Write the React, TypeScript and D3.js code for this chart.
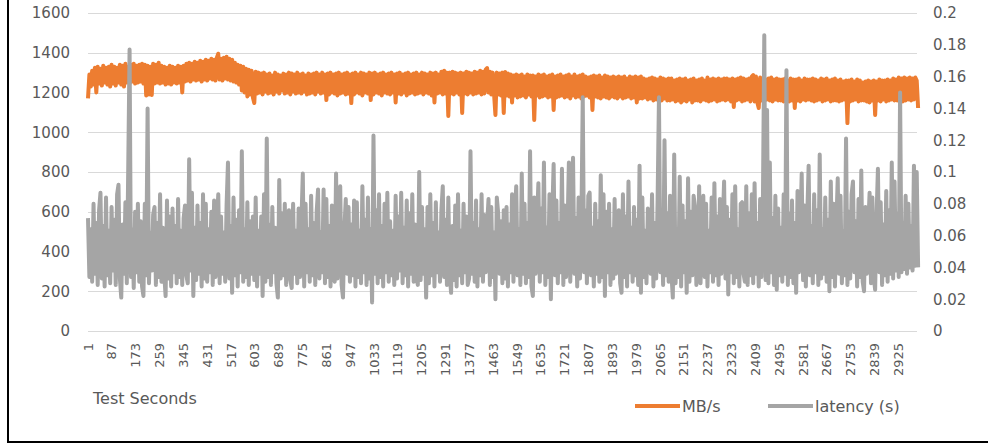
import React, { useRef, useEffect } from 'react';
import * as d3 from 'd3';

// MB/s, one reading every 5 test seconds
const mbps = [
  1170, 1290, 1230, 1310, 1240, 1325, 1200, 1330, 1245, 1320, 1235, 1335, 1250, 1325, 1240, 1330, 1230, 1340, 1245, 1330,
  1235, 1325, 1250, 1340, 1240, 1335, 1230, 1345, 1250, 1330, 1245, 1340, 1255, 1345, 1245, 1335, 1250, 1340, 1255, 1345,
  1245, 1340, 1185, 1335, 1190, 1330, 1188, 1345, 1245, 1340, 1250, 1350, 1245, 1335, 1250, 1330, 1240, 1325, 1245, 1335,
  1240, 1330, 1250, 1325, 1245, 1335, 1250, 1330, 1200, 1335, 1255, 1345, 1260, 1350, 1255, 1345, 1265, 1355, 1260, 1350,
  1265, 1360, 1255, 1355, 1265, 1365, 1260, 1360, 1270, 1370, 1265, 1365, 1260, 1375, 1395, 1265, 1370, 1260, 1375, 1270,
  1380, 1265, 1370, 1260, 1365, 1255, 1350, 1250, 1340, 1240, 1335, 1210, 1330, 1200, 1320, 1180, 1315, 1190, 1310, 1175,
  1147, 1305, 1195, 1300, 1200, 1295, 1190, 1300, 1205, 1290, 1195, 1295, 1200, 1285, 1190, 1300, 1205, 1290, 1195, 1285,
  1210, 1295, 1195, 1290, 1200, 1300, 1190, 1295, 1205, 1290, 1195, 1300, 1200, 1290, 1195, 1295, 1205, 1285, 1190, 1295,
  1195, 1290, 1200, 1295, 1190, 1300, 1205, 1290, 1195, 1300, 1200, 1290, 1162, 1295, 1190, 1300, 1200, 1290, 1195, 1295,
  1185, 1300, 1195, 1290, 1200, 1295, 1190, 1300, 1195, 1290, 1147, 1295, 1190, 1300, 1200, 1290, 1195, 1300, 1185, 1295,
  1200, 1290, 1195, 1300, 1162, 1295, 1190, 1300, 1200, 1290, 1195, 1295, 1185, 1300, 1200, 1290, 1195, 1295, 1190, 1300,
  1200, 1290, 1150, 1295, 1195, 1300, 1190, 1290, 1200, 1295, 1185, 1300, 1195, 1290, 1200, 1295, 1190, 1300, 1195, 1290,
  1200, 1300, 1190, 1295, 1200, 1290, 1195, 1300, 1185, 1295, 1150, 1300, 1195, 1290, 1200, 1305, 1190, 1310, 1195, 1300,
  1082, 1300, 1195, 1305, 1190, 1300, 1200, 1295, 1190, 1300, 1097, 1295, 1195, 1305, 1190, 1300, 1200, 1295, 1190, 1305,
  1195, 1300, 1200, 1310, 1190, 1305, 1195, 1315, 1323, 1200, 1305, 1190, 1300, 1195, 1087, 1300, 1190, 1295, 1185, 1300,
  1097, 1303, 1185, 1295, 1180, 1290, 1150, 1285, 1185, 1290, 1175, 1285, 1180, 1290, 1185, 1280, 1175, 1290, 1190, 1285,
  1180, 1285, 1062, 1280, 1185, 1290, 1175, 1285, 1180, 1290, 1185, 1280, 1175, 1285, 1180, 1290, 1112, 1280, 1175, 1285,
  1180, 1290, 1185, 1280, 1175, 1285, 1180, 1290, 1170, 1280, 1185, 1290, 1175, 1280, 1180, 1285, 1170, 1290, 1180, 1280,
  1185, 1275, 1175, 1280, 1112, 1285, 1180, 1280, 1175, 1285, 1170, 1275, 1180, 1285, 1175, 1280, 1170, 1275, 1180, 1280,
  1175, 1275, 1170, 1280, 1180, 1275, 1170, 1280, 1175, 1270, 1180, 1280, 1170, 1275, 1175, 1280, 1150, 1275, 1170, 1280,
  1170, 1270, 1175, 1265, 1165, 1270, 1170, 1275, 1160, 1270, 1165, 1265, 1170, 1275, 1160, 1270, 1170, 1265, 1160, 1270,
  1160, 1270, 1165, 1260, 1155, 1265, 1160, 1270, 1150, 1265, 1160, 1270, 1155, 1260, 1165, 1265, 1150, 1270, 1160, 1260,
  1160, 1265, 1155, 1270, 1165, 1260, 1160, 1275, 1155, 1265, 1160, 1270, 1165, 1265, 1155, 1270, 1160, 1265, 1165, 1270,
  1160, 1270, 1165, 1265, 1155, 1270, 1127, 1265, 1160, 1270, 1165, 1275, 1155, 1270, 1160, 1265, 1165, 1270, 1155, 1280,
  1288, 1155, 1280, 1150, 1122, 1275, 1160, 1270, 1155, 1265, 1165, 1270, 1160, 1275, 1155, 1265, 1165, 1270, 1160, 1265,
  1160, 1265, 1155, 1270, 1165, 1260, 1155, 1270, 1160, 1265, 1122, 1265, 1160, 1270, 1155, 1260, 1165, 1270, 1160, 1265,
  1165, 1265, 1160, 1270, 1155, 1265, 1160, 1260, 1165, 1270, 1155, 1265, 1160, 1270, 1165, 1260, 1155, 1265, 1160, 1270,
  1160, 1260, 1155, 1265, 1160, 1255, 1165, 1260, 1046, 1260, 1155, 1265, 1160, 1255, 1165, 1265, 1155, 1260, 1160, 1250,
  1160, 1255, 1155, 1260, 1150, 1255, 1160, 1260, 1087, 1255, 1160, 1265, 1155, 1260, 1165, 1260, 1155, 1265, 1160, 1260,
  1165, 1270, 1160, 1265, 1160, 1275, 1165, 1270, 1155, 1275, 1160, 1270, 1165, 1275, 1160, 1270, 1165, 1275, 1260, 1122,
];

// latency in milliseconds, same sampling
const latencyMs = [
  71, 34, 64, 31, 80, 36, 68, 29, 76, 87, 33, 66, 28, 84, 35, 63, 30, 78, 38, 70,
  29, 86, 92, 33, 21, 67, 36, 81, 30, 100, 177, 34, 64, 27, 75, 37, 80, 31, 69, 28,
  22, 80, 35, 140, 30, 62, 38, 73, 78, 29, 68, 34, 86, 31, 65, 36, 22, 82, 33, 72,
  28, 77, 37, 66, 30, 83, 34, 63, 29, 71, 79, 35, 30, 108, 38, 87, 22, 65, 32, 79,
  36, 68, 28, 86, 33, 80, 31, 64, 37, 75, 29, 82, 34, 67, 86, 30, 72, 36, 62, 31,
  79, 106, 33, 66, 24, 84, 35, 70, 28, 76, 37, 113, 31, 64, 34, 81, 29, 69, 36, 72,
  32, 84, 28, 63, 36, 72, 22, 86, 31, 121, 34, 67, 29, 78, 37, 65, 30, 21, 95, 33,
  74, 35, 80, 29, 66, 76, 32, 27, 80, 36, 63, 30, 77, 34, 69, 99, 28, 80, 37, 64,
  31, 85, 35, 68, 29, 75, 89, 33, 62, 37, 89, 30, 83, 34, 66, 28, 79, 36, 31, 99,
  33, 71, 91, 29, 21, 64, 83, 36, 78, 31, 67, 35, 82, 28, 81, 34, 63, 30, 91, 37,
  70, 29, 84, 33, 64, 18, 123, 36, 76, 30, 86, 34, 66, 28, 80, 37, 87, 31, 69, 35,
  63, 29, 85, 33, 72, 38, 87, 30, 65, 35, 82, 28, 74, 36, 86, 31, 67, 34, 29, 100,
  32, 78, 36, 64, 21, 78, 30, 86, 35, 68, 28, 81, 37, 62, 31, 76, 91, 34, 70, 29,
  84, 36, 24, 66, 32, 79, 28, 86, 35, 63, 30, 80, 37, 72, 29, 33, 113, 36, 68, 31,
  82, 28, 64, 35, 86, 31, 73, 37, 66, 83, 29, 78, 34, 62, 20, 84, 74, 36, 69, 30,
  76, 33, 78, 28, 67, 37, 86, 31, 72, 91, 35, 64, 29, 99, 36, 80, 30, 68, 34, 113,
  28, 22, 84, 36, 70, 93, 31, 77, 37, 106, 29, 65, 34, 86, 20, 73, 105, 35, 82, 30,
  68, 37, 102, 29, 79, 34, 63, 106, 31, 86, 109, 36, 71, 28, 84, 33, 66, 147, 37, 76,
  30, 85, 87, 35, 65, 28, 80, 36, 69, 31, 98, 34, 86, 22, 75, 37, 80, 29, 64, 33,
  83, 36, 67, 76, 30, 24, 86, 34, 72, 28, 94, 37, 65, 31, 78, 35, 70, 29, 104, 24,
  84, 34, 63, 30, 77, 67, 36, 86, 28, 68, 33, 81, 147, 37, 66, 29, 120, 35, 74, 31,
  85, 36, 21, 111, 30, 64, 34, 97, 28, 79, 37, 69, 24, 96, 31, 75, 35, 85, 78, 29,
  36, 91, 30, 67, 85, 34, 80, 28, 63, 37, 84, 31, 93, 35, 72, 29, 83, 36, 66, 94,
  33, 78, 23, 70, 37, 86, 30, 91, 34, 64, 28, 80, 81, 36, 31, 91, 29, 74, 35, 86,
  30, 93, 36, 68, 28, 83, 34, 80, 186, 32, 139, 30, 106, 37, 71, 29, 85, 26, 77, 35,
  65, 31, 86, 36, 164, 29, 74, 34, 82, 30, 68, 24, 88, 37, 63, 99, 32, 79, 28, 72,
  104, 35, 66, 30, 86, 37, 76, 29, 111, 33, 64, 36, 84, 31, 70, 25, 94, 34, 80, 28,
  67, 96, 36, 85, 30, 63, 35, 121, 29, 75, 33, 86, 94, 37, 69, 28, 83, 34, 101, 31,
  25, 78, 36, 65, 87, 30, 84, 34, 26, 72, 102, 37, 81, 29, 67, 35, 88, 31, 76, 36,
  106, 33, 94, 38, 74, 34, 150, 37, 68, 39, 85, 36, 80, 40, 66, 38, 104, 41, 100, 40,
];

// test second of each reading
const seconds = mbps.map((_, i) => 1 + i * 5);

const xTickLabels = [
  1, 87, 173, 259, 345, 431, 517, 603, 689, 775, 861, 947, 1033, 1119, 1205,
  1291, 1377, 1463, 1549, 1635, 1721, 1807, 1893, 1979, 2065, 2151, 2237, 2323,
  2409, 2495, 2581, 2667, 2753, 2839, 2925,
];
const leftTicks = [0, 200, 400, 600, 800, 1000, 1200, 1400, 1600];
const rightTicks = [0, 0.02, 0.04, 0.06, 0.08, 0.1, 0.12, 0.14, 0.16, 0.18, 0.2];

const ORANGE = '#ed7d31';
const GRAY = '#a5a5a5';
const TEXT = '#595959';
const FONT = '"DejaVu Sans", sans-serif';

const App = () => {
  const ref = useRef<SVGSVGElement>(null);

  useEffect(() => {
    const svg = d3.select(ref.current);
    svg.selectAll('*').remove();

    const left = 88, right = 917, top = 13, bottom = 331;

    const x = d3.scaleLinear().domain([1, 2992]).range([left, right]);
    const yL = d3.scaleLinear().domain([0, 1600]).range([bottom, top]);
    const yR = d3.scaleLinear().domain([0, 0.2]).range([bottom, top]);

    // outer frame (only left and bottom edges are in view)
    svg.append('line').attr('x1', 8).attr('x2', 8).attr('y1', 0).attr('y2', 443)
      .attr('stroke', '#000').attr('stroke-width', 2);
    svg.append('line').attr('x1', 7).attr('x2', 988).attr('y1', 442).attr('y2', 442)
      .attr('stroke', '#000').attr('stroke-width', 2);

    // gridlines
    svg.append('g').selectAll('line').data(leftTicks).enter().append('line')
      .attr('x1', left).attr('x2', right)
      .attr('y1', d => Math.round(yL(d)) + 0.5).attr('y2', d => Math.round(yL(d)) + 0.5)
      .attr('stroke', '#d9d9d9').attr('stroke-width', 1);

    // left axis labels
    svg.append('g').selectAll('text').data(leftTicks).enter().append('text')
      .attr('x', 70).attr('y', d => yL(d)).attr('dy', '0.36em')
      .attr('text-anchor', 'end')
      .style('font-family', FONT).style('font-size', '15px').style('fill', TEXT)
      .text(d => d);

    // right axis labels
    svg.append('g').selectAll('text').data(rightTicks).enter().append('text')
      .attr('x', 933).attr('y', d => yR(d)).attr('dy', '0.36em')
      .style('font-family', FONT).style('font-size', '15px').style('fill', TEXT)
      .text(d => d3.format('~g')(d));

    // x labels, rotated
    svg.append('g').selectAll('text').data(xTickLabels).enter().append('text')
      .attr('transform', d => `translate(${x(d)},343) rotate(-90)`)
      .attr('text-anchor', 'end').attr('dominant-baseline', 'central')
      .style('font-family', FONT).style('font-size', '13px').style('fill', TEXT)
      .text(d => d);

    // series: MB/s on the left axis, latency on the right axis (drawn on top)
    const lineL = d3.line<number>().x((_, i) => x(seconds[i])).y(d => yL(d));
    const lineR = d3.line<number>().x((_, i) => x(seconds[i])).y(d => yR(d / 1000));

    svg.append('path').datum(mbps)
      .attr('fill', 'none').attr('stroke', ORANGE).attr('stroke-width', 4)
      .attr('stroke-linejoin', 'round').attr('d', lineL);

    svg.append('path').datum(latencyMs)
      .attr('fill', 'none').attr('stroke', GRAY).attr('stroke-width', 4)
      .attr('stroke-linejoin', 'round').attr('d', lineR);

    // axis title
    svg.append('text').attr('x', 93).attr('y', 404)
      .style('font-family', FONT).style('font-size', '16px').style('fill', TEXT)
      .text('Test Seconds');

    // legend
    const legend = [
      { name: 'MB/s', color: ORANGE, x: 635 },
      { name: 'latency (s)', color: GRAY, x: 768 },
    ];
    const lg = svg.append('g');
    legend.forEach(l => {
      lg.append('line').attr('x1', l.x).attr('x2', l.x + 45).attr('y1', 406).attr('y2', 406)
        .attr('stroke', l.color).attr('stroke-width', 4);
      lg.append('text').attr('x', l.x + 47).attr('y', 412)
        .style('font-family', FONT).style('font-size', '16px').style('fill', TEXT)
        .text(l.name);
    });
  }, []);

  return (
    <div style={{ position: 'absolute', left: 0, top: 0 }}>
      <svg ref={ref} width={988} height={444} style={{ display: 'block', background: '#fff' }} />
    </div>
  );
};

export default App;
